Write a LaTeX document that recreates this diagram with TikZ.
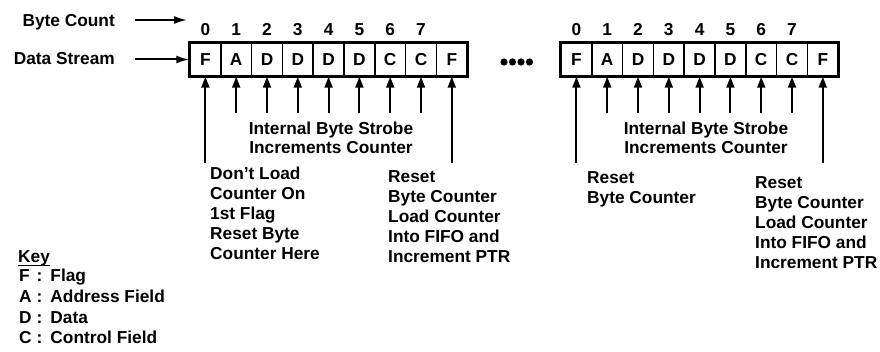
\documentclass[tikz,border=0pt]{standalone}
\usepackage{fontspec}
\setmainfont{Liberation Sans}
\usetikzlibrary{arrows.meta}
\begin{document}
\begin{tikzpicture}[x=1pt,y=-1pt,
  every node/.style={font=\bfseries\fontsize{17.3}{20}\selectfont},
  cell/.style={draw, line width=1.5pt, minimum width=30.8pt, minimum height=33pt, inner sep=0pt},
  num/.style={anchor=base, inner sep=0pt},
  lbl/.style={anchor=base east, inner sep=0pt},
  note/.style={anchor=north west, align=left, inner sep=0pt},
  mid/.style={anchor=north, align=center, inner sep=0pt, font=\bfseries\fontsize{17.3}{19}\selectfont},
  uparr/.style={-{Triangle[length=11pt,width=8pt]}, line width=2pt},
  harr/.style={-{Latex[length=13pt,width=8pt]}, line width=2pt},
  frame/.style={line width=2pt},
]
\useasboundingbox (0,0) rectangle (880,352);

% labels on the left
\node[lbl] (bc) at (115,26.4) {Byte Count};
\node[lbl] (ds) at (115,64.4) {Data Stream};
\coordinate (bcS) at (135,20);
\coordinate (bcE) at (187,20);
\coordinate (dsS) at (135,59.5);

% left block
\foreach \t [count=\i from 0] in {F,A,D,D,D,D,C,C,F}
  \node[cell] (L\i) at ({205.4+30.8*\i},59.5) {\t};
\draw[frame] (L0.north west) rectangle (L8.south east);
\foreach \i in {0,...,7}
  \node[num] (nL\i) at ({205.4+30.8*\i},35.4) {\i};
\foreach \i in {1,...,7}{
  \coordinate (sL\i) at ({205.4+30.8*\i},113);
  \draw[uparr] (sL\i) -- (L\i.south);
}
\coordinate (sL0) at (205.4,163);
\coordinate (sL8) at ({205.4+30.8*8},163);
\draw[uparr] (sL0) -- (L0.south);
\draw[uparr] (sL8) -- (L8.south);

% right block
\foreach \t [count=\i from 0] in {F,A,D,D,D,D,C,C,F}
  \node[cell] (R\i) at ({576.4+30.8*\i},59.5) {\t};
\draw[frame] (R0.north west) rectangle (R8.south east);
\foreach \i in {0,...,7}
  \node[num] (nR\i) at ({576.4+30.8*\i},35.4) {\i};
\foreach \i in {1,...,7}{
  \coordinate (sR\i) at ({576.4+30.8*\i},113);
  \draw[uparr] (sR\i) -- (R\i.south);
}
\coordinate (sR0) at (576.4,163);
\coordinate (sR8) at ({576.4+30.8*8},163);
\draw[uparr] (sR0) -- (R0.south);
\draw[uparr] (sR8) -- (R8.south);

% input arrows
\draw[harr] (bcS) -- (bcE);
\draw[harr] (dsS) -- (L0.west);

% dots between blocks
\foreach \k in {0,1,2,3}
  \fill (504+8.5*\k,62) circle (3.6);

% annotations
\node[mid] (ibsL) at (331,121.6) {Internal Byte Strobe\\Increments Counter};
\node[mid] (ibsR) at (706,121.6) {Internal Byte Strobe\\Increments Counter};
\node[note] (dontload) at (210,166.6) {Don't Load\\Counter On\\1st Flag\\Reset Byte\\Counter Here};
\node[note] (resetL) at (388,170.6) {Reset\\Byte Counter\\Load Counter\\Into FIFO and\\Increment PTR};
\node[note] (resetR1) at (587,171.6) {Reset\\Byte Counter};
\node[note] (resetR2) at (755,176.6) {Reset\\Byte Counter\\Load Counter\\Into FIFO and\\Increment PTR};

% key
\node[anchor=base west, inner sep=0pt] (key) at (18,263) {Key};
\draw[line width=1.2pt] ([yshift=-2.5pt]key.base west) -- ([yshift=-2.5pt]key.base east);
\node[anchor=north west, inner sep=0pt, font=\bfseries\fontsize{17.3}{20.7}\selectfont] (keytab) at (19,267.1)
  {\begin{tabular}{@{}l@{\hspace{5pt}}l@{\hspace{8pt}}l@{}}
   F & : & Flag\\
   A & : & Address Field\\
   D & : & Data\\
   C & : & Control Field
   \end{tabular}};
\end{tikzpicture}
\end{document}
